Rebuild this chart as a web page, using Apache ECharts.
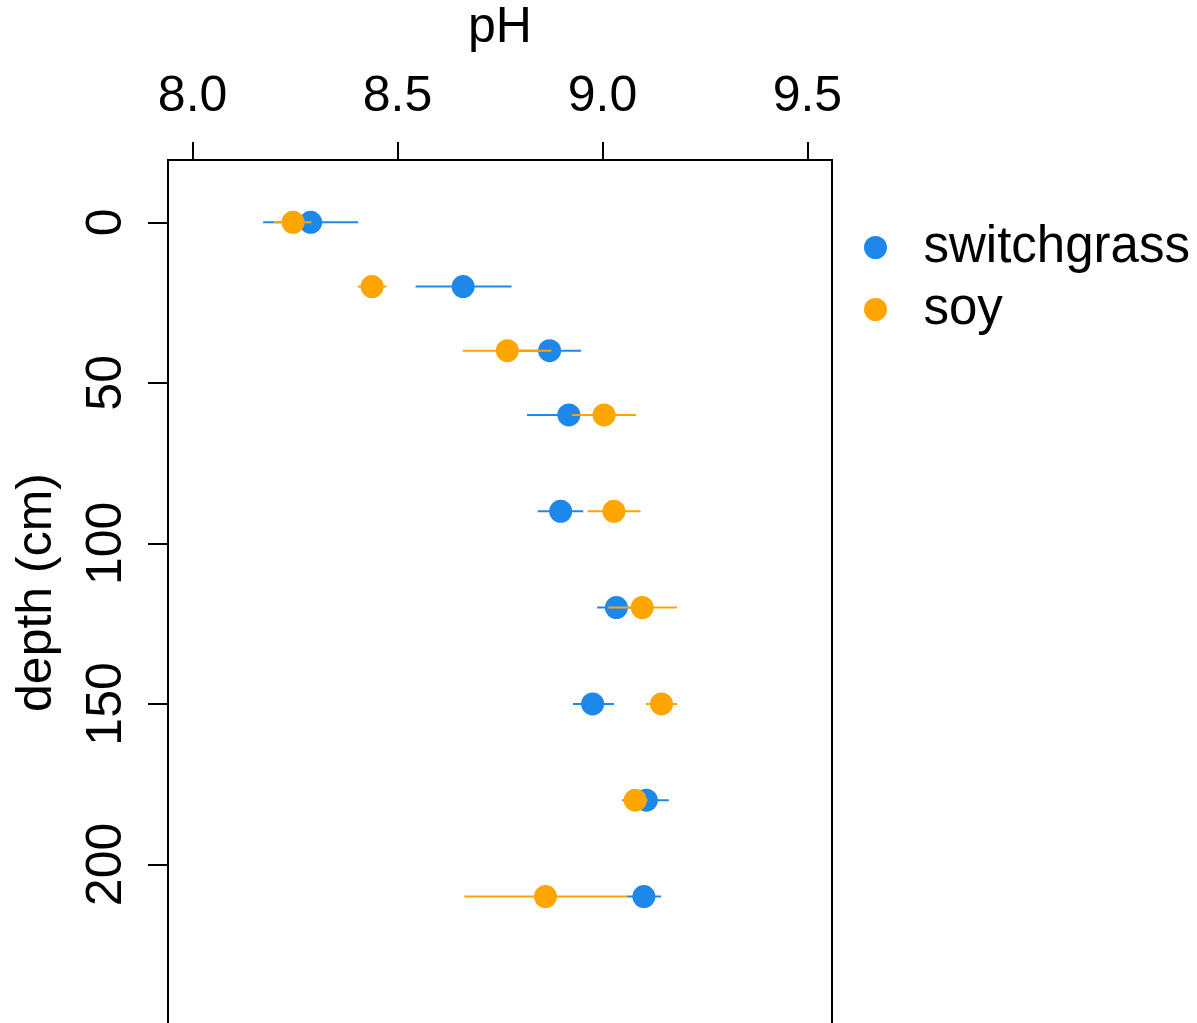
<!DOCTYPE html>
<html>
<head>
<meta charset="utf-8">
<script src="https://cdn.jsdelivr.net/npm/echarts@6/dist/echarts.min.js"></script>
<style>
  html, body { margin: 0; padding: 0; background: #fff; }
  #chart { width: 1197px; height: 1023px; }
</style>
</head>
<body>
<div id="chart"></div>
<script>
// depth of each sample (cm)
var depths = [0, 20, 40, 60, 90, 120, 150, 180, 210];
// switchgrass pH: mean, lower and upper end of the bar
var swMean = [8.288, 8.660, 8.871, 8.918, 8.898, 9.034, 8.976, 9.107, 9.101];
var swLo   = [8.172, 8.544, 8.794, 8.816, 8.842, 8.987, 8.928, 9.048, 9.060];
var swHi   = [8.404, 8.778, 8.948, 9.019, 8.953, 9.081, 9.028, 9.162, 9.143];
// soy pH
var soyMean = [8.245, 8.438, 8.768, 9.004, 9.028, 9.097, 9.144, 9.080, 8.861];
var soyLo   = [8.198, 8.403, 8.659, 8.926, 8.964, 9.014, 9.106, 9.050, 8.663];
var soyHi   = [8.290, 8.473, 8.875, 9.082, 9.093, 9.182, 9.182, 9.110, 9.060];
// tick labels
var pHTicks = [8.0, 8.5, 9.0, 9.5];
var depthTicks = [0, 50, 100, 150, 200];

var blue = '#1E88EA';
var orange = '#FFA500';
var font = "'Liberation Sans', Arial, Helvetica, sans-serif";

function points(mean) {
  return depths.map(function (d, i) { return [mean[i], d]; });
}
function bars(lo, hi) {
  return depths.map(function (d, i) { return [lo[i], hi[i], d]; });
}
function errBar(color) {
  return function (params, api) {
    var a = api.coord([api.value(0), api.value(2)]);
    var b = api.coord([api.value(1), api.value(2)]);
    return {
      type: 'line',
      shape: { x1: a[0], y1: a[1], x2: b[0], y2: b[1] },
      style: { stroke: color, lineWidth: 2 }
    };
  };
}

var chart = echarts.init(document.getElementById('chart'));
chart.setOption({
  animation: false,
  textStyle: { fontFamily: font },
  grid: {
    show: true,
    left: 168,
    right: 365,
    top: 160,
    bottom: -2,
    outerBoundsMode: 'none',
    borderColor: '#000',
    borderWidth: 2
  },
  legend: {
    data: ['switchgrass', 'soy'],
    orient: 'vertical',
    left: 859,
    top: 217,
    icon: 'circle',
    itemWidth: 86,
    itemHeight: 23,
    itemGap: 11,
    selectedMode: false,
    textStyle: { fontSize: 51, lineHeight: 50, color: '#000', fontFamily: font }
  },
  xAxis: {
    type: 'value',
    position: 'top',
    min: 7.94,
    max: 9.56,
    name: 'pH',
    nameLocation: 'middle',
    nameGap: 107,
    nameTextStyle: { fontSize: 50, color: '#000', fontFamily: font },
    axisLine: { show: false, onZero: false },
    splitLine: { show: false },
    axisTick: {
      show: true, length: 18, customValues: pHTicks,
      lineStyle: { color: '#000', width: 2 }
    },
    axisLabel: {
      customValues: pHTicks,
      margin: 38,
      fontSize: 50,
      color: '#000',
      formatter: function (v) { return v.toFixed(1); }
    }
  },
  yAxis: {
    type: 'value',
    inverse: true,
    min: -19.4,
    max: 250,
    name: 'depth (cm)',
    nameLocation: 'middle',
    nameGap: 106,
    nameTextStyle: { fontSize: 50, color: '#000', fontFamily: font },
    axisLine: { show: false, onZero: false },
    splitLine: { show: false },
    axisTick: {
      show: true, length: 20, customValues: depthTicks,
      lineStyle: { color: '#000', width: 2 }
    },
    axisLabel: {
      customValues: depthTicks,
      rotate: 90,
      margin: 36,
      fontSize: 50,
      color: '#000'
    }
  },
  series: [
    {
      name: 'switchgrass bar',
      type: 'custom',
      renderItem: errBar(blue),
      encode: { x: [0, 1], y: 2 },
      data: bars(swLo, swHi),
      z: 2
    },
    {
      name: 'switchgrass',
      type: 'scatter',
      symbol: 'circle',
      symbolSize: 23,
      itemStyle: { color: blue, opacity: 1 },
      data: points(swMean),
      z: 3
    },
    {
      name: 'soy bar',
      type: 'custom',
      renderItem: errBar(orange),
      encode: { x: [0, 1], y: 2 },
      data: bars(soyLo, soyHi),
      z: 4
    },
    {
      name: 'soy',
      type: 'scatter',
      symbol: 'circle',
      symbolSize: 23,
      itemStyle: { color: orange, opacity: 1 },
      data: points(soyMean),
      z: 5
    }
  ]
});
</script>
</body>
</html>
